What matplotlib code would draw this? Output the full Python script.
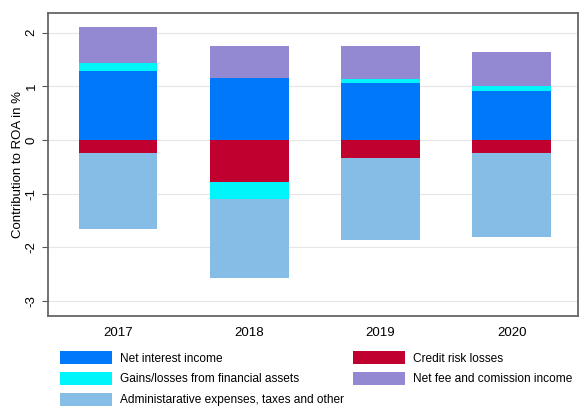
import matplotlib.pyplot as plt
import numpy as np

plt.rcParams['font.family'] = ['Liberation Sans', 'DejaVu Sans']

years = ['2017', '2018', '2019', '2020']
net_interest = [1.285, 1.16, 1.055, 0.92]
gains_losses = [0.145, -0.32, 0.085, 0.09]
fee_income = [0.67, 0.595, 0.61, 0.635]
credit_losses = [-0.24, -0.78, -0.335, -0.25]
admin_expenses = [-1.42, -1.48, -1.535, -1.56]

labels = ['Net interest income', 'Gains/losses from financial assets',
          'Administarative expenses, taxes and other', 'Credit risk losses',
          'Net fee and comission income']
colors = {'nii': '#0078fa', 'gains': '#00f5fa', 'admin': '#85bde6',
          'credit': '#c0002e', 'fee': '#9389d2'}

fig = plt.figure(figsize=(5.79, 4.08), dpi=100)
ax = fig.add_axes([0.083, 0.226, 0.915, 0.742])

x = np.arange(1, len(years) + 1)
width = 0.6

pos_base = np.zeros(len(years))
neg_base = np.zeros(len(years))
handles = {}


def stack(values, key):
    global pos_base, neg_base
    values = np.asarray(values)
    bottoms = np.where(values >= 0, pos_base, neg_base)
    h = ax.bar(x, values, width, bottom=bottoms, color=colors[key], zorder=2)
    pos_base = pos_base + np.clip(values, 0, None)
    neg_base = neg_base + np.clip(values, None, 0)
    handles[key] = h


stack(net_interest, 'nii')
stack(credit_losses, 'credit')
stack(gains_losses, 'gains')
stack(fee_income, 'fee')
stack(admin_expenses, 'admin')

ax.set_xlim(0.466, 4.504)
ax.set_ylim(-3.28, 2.365)
ax.set_yticks([-3, -2, -1, 0, 1, 2])
ax.set_yticklabels(['-3', '-2', '-1', '0', '1', '2'], rotation=90, va='center')
ax.set_xticks(x)
ax.set_xticklabels(years, fontsize=9.5)
ax.tick_params(axis='x', length=0, pad=8)
ax.tick_params(axis='y', length=4, labelsize=9.5, color='#555555')
ax.yaxis.grid(True, color='#e6e6e6', linewidth=0.8, zorder=0)
ax.set_axisbelow(True)
for s in ax.spines.values():
    s.set_color('#666666')
    s.set_linewidth(1.3)
ax.set_ylabel('Contribution to ROA in %', fontsize=9.5, labelpad=1)

order = ['nii', 'gains', 'admin', 'credit', 'fee']
fig.legend([handles[k] for k in order], labels, ncol=2, loc='upper left',
           bbox_to_anchor=(0.1036, 0.139), frameon=False, fontsize=8.6,
           handlelength=4.35, handleheight=1.25, handletextpad=0.67,
           columnspacing=0.75, labelspacing=0.63, borderaxespad=0, borderpad=0)

fig.savefig('out.png', dpi=100)
